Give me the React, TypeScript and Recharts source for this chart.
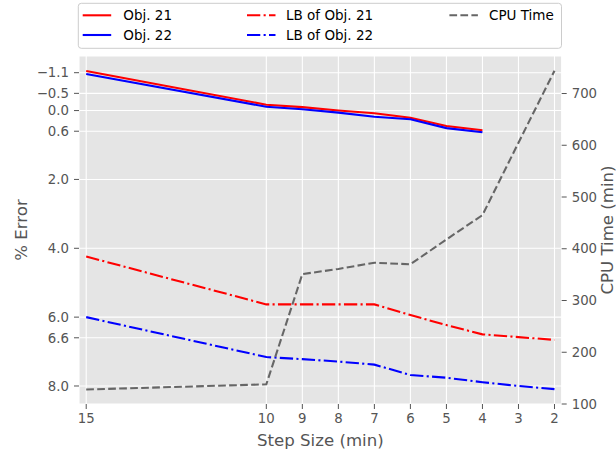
import React from 'react';
import { ComposedChart, Line, XAxis, YAxis, CartesianGrid } from 'recharts';

// ---- data ----
const steps = [15, 10, 9, 8, 7, 6, 5, 4, 3, 2];
const obj21 = [-1.15, -0.17, -0.1, 0.0, 0.08, 0.21, 0.45, 0.57];
const obj22 = [-1.06, -0.11, -0.04, 0.06, 0.18, 0.25, 0.51, 0.63];
const lbObj21 = [4.24, 5.63, 5.63, 5.63, 5.63, 5.94, 6.23, 6.5, 6.58, 6.66];
const lbObj22 = [6.0, 7.16, 7.22, 7.29, 7.38, 7.68, 7.76, 7.89, 8.0, 8.09];
const cpuTime = [128, 138, 351, 361, 373, 370, 418, 465, 605, 744];

const xTicks = [15, 10, 9, 8, 7, 6, 5, 4, 3, 2];
const errorTicks = [-1.1, -0.5, 0.0, 0.6, 2.0, 4.0, 6.0, 6.6, 8.0];
const cpuTicks = [100, 200, 300, 400, 500, 600, 700];

const data = steps.map((s, i) => ({
  step: s,
  obj21: obj21[i],
  obj22: obj22[i],
  lb21: lbObj21[i],
  lb22: lbObj22[i],
  cpu: cpuTime[i],
}));

const DASHDOT = '13.3 3.3 2.1 3.3';
const DASHED = '7.7 3.3';

const series = [
  { key: 'obj21', name: 'Obj. 21', color: '#ff0000', dash: undefined as string | undefined, axis: 'left' },
  { key: 'obj22', name: 'Obj. 22', color: '#0000ff', dash: undefined as string | undefined, axis: 'left' },
  { key: 'lb21', name: 'LB of Obj. 21', color: '#ff0000', dash: DASHDOT, axis: 'left' },
  { key: 'lb22', name: 'LB of Obj. 22', color: '#0000ff', dash: DASHDOT, axis: 'left' },
  { key: 'cpu', name: 'CPU Time', color: '#666666', dash: DASHED, axis: 'right' },
];

const FONT = 'DejaVu Sans';
const TICK_COLOR = '#555555';
const TICK_FS = 13.3;

const fmtErr = (v: number) => {
  const s = Math.abs(v).toFixed(1);
  return v < 0 ? '\u2212' + s : s;
};

const AxisText = ({ x, y, text, angle }: { x: number; y: number; text: string; angle?: number }) => (
  <text
    x={x}
    y={y}
    transform={angle ? `rotate(${angle} ${x} ${y})` : undefined}
    textAnchor="middle"
    fill={TICK_COLOR}
    fontSize={16.6}
    fontFamily={FONT}
  >
    {text}
  </text>
);

const LegendBox = () => {
  const cols = [
    { lineX: 82.7, textX: 123.3 },
    { lineX: 247, textX: 286 },
    { lineX: 449.4, textX: 489 },
  ];
  const rows = [15.3, 35];
  return (
    <svg width={616} height={52} style={{ position: 'absolute', left: 0, top: 0 }}>
      <rect x={78.3} y={3.3} width={483.2} height={45} rx={3} ry={3} fill="#ffffff" stroke="#cccccc" strokeWidth={1} />
      {series.map((s, i) => {
        const c = cols[Math.floor(i / 2)];
        const y = rows[i % 2];
        return (
          <g key={s.key}>
            <line x1={c.lineX} x2={c.lineX + 28.5} y1={y} y2={y} stroke={s.color} strokeWidth={2.08} strokeDasharray={s.dash} />
            <text x={c.textX} y={y} dominantBaseline="central" fontSize={13.5} fontFamily={FONT} fill="#000">
              {s.name}
            </text>
          </g>
        );
      })}
    </svg>
  );
};

export default function App() {
  return (
    <div style={{ position: 'absolute', left: 0, top: 0, width: 616, height: 454, background: '#fff' }}>
      <ComposedChart
        width={616}
        height={454}
        data={data}
        margin={{ top: 56, right: 0, bottom: 0, left: 0 }}
      >
        <CartesianGrid
          yAxisId="left"
          fill="#E5E5E5"
          fillOpacity={1}
          stroke="#ffffff"
          strokeWidth={1.1}
        />
        <XAxis
          dataKey="step"
          type="number"
          domain={[1.8, 15.2]}
          reversed
          ticks={xTicks}
          interval={0}
          allowDataOverflow
          height={50}
          axisLine={false}
          tickSize={5}
          tickMargin={5}
          tickLine={{ stroke: TICK_COLOR }}
          tick={{ fill: TICK_COLOR, fontSize: TICK_FS, fontFamily: FONT }}
          label={(p: any) => {
            const vb = p.viewBox;
            return <AxisText x={vb.x + vb.width / 2} y={vb.y + 41.7} text="Step Size (min)" />;
          }}
        />
        <YAxis
          yAxisId="left"
          type="number"
          domain={[-1.585, 8.523]}
          reversed
          ticks={errorTicks}
          interval={0}
          allowDataOverflow
          width={79}
          axisLine={false}
          tickSize={5}
          tickMargin={5}
          tickLine={{ stroke: TICK_COLOR }}
          tickFormatter={fmtErr}
          tick={{ fill: TICK_COLOR, fontSize: TICK_FS, fontFamily: FONT }}
          label={(p: any) => {
            const vb = p.viewBox;
            return <AxisText x={27} y={vb.y + vb.height / 2} angle={-90} text="% Error" />;
          }}
        />
        <YAxis
          yAxisId="right"
          orientation="right"
          type="number"
          domain={[100, 772.5]}
          ticks={cpuTicks}
          interval={0}
          allowDataOverflow
          width={54.3}
          axisLine={false}
          tickSize={5}
          tickMargin={5}
          tickLine={{ stroke: TICK_COLOR }}
          tick={{ fill: TICK_COLOR, fontSize: TICK_FS, fontFamily: FONT }}
          label={(p: any) => {
            const vb = p.viewBox;
            return <AxisText x={612.5} y={vb.y + vb.height / 2} angle={-90} text="CPU Time (min)" />;
          }}
        />
        {series.map((s) => (
          <Line
            key={s.key}
            yAxisId={s.axis}
            dataKey={s.key}
            name={s.name}
            type="linear"
            stroke={s.color}
            strokeWidth={2.08}
            strokeDasharray={s.dash}
            dot={false}
            activeDot={false}
            isAnimationActive={false}
          />
        ))}
      </ComposedChart>
      <LegendBox />
    </div>
  );
}
